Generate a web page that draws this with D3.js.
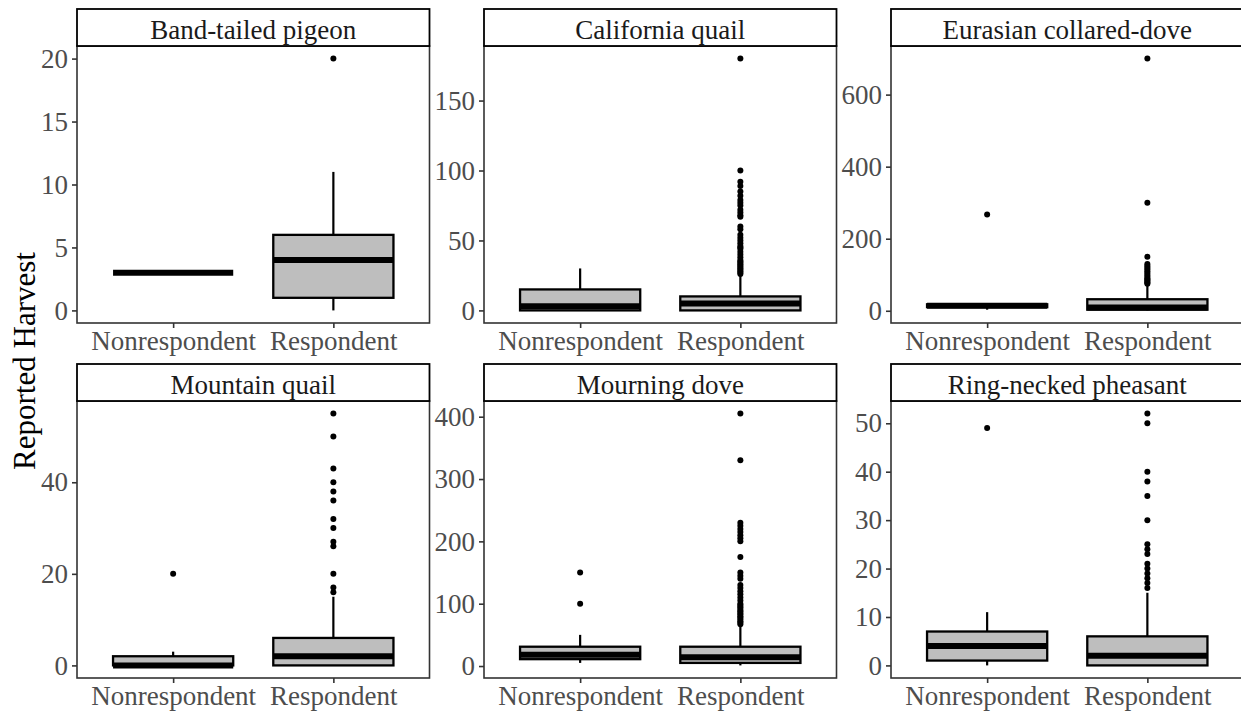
<!DOCTYPE html>
<html>
<head>
<meta charset="utf-8">
<script src="https://cdn.jsdelivr.net/npm/d3@7"></script>
<style>
  body { margin: 0; background: #fff; }
  svg { display: block; }
</style>
</head>
<body>
<svg id="chart" width="1241" height="713"></svg>
<script>
// ---------------- data ----------------
const species = ["Band-tailed pigeon", "California quail", "Eurasian collared-dove",
                 "Mountain quail", "Mourning dove", "Ring-necked pheasant"];
const groups = ["Nonrespondent", "Respondent"];

// per species: [Nonrespondent, Respondent]
const lowerWhisker = [[3, 0], [0, 0], [3, 1], [0, 0], [5, 1], [0, 0]];
const q1           = [[3, 1], [0, 0], [10, 3], [0, 0], [11, 5], [1, 0]];
const median       = [[3, 4], [3, 5], [14, 9], [0, 2], [18, 14], [4, 2]];
const q3           = [[3, 6], [15, 10], [18, 32], [2, 6], [31, 31], [7, 6]];
const upperWhisker = [[3, 11], [30, 25], [20, 70], [3, 15], [50, 65], [11, 15]];

const outliers = [
  [[], [20]],
  [[], [26, 27, 28, 29, 30, 31, 32, 33, 34, 35, 36, 38, 40, 42, 44, 45, 46, 48, 50, 52, 54,
        58, 60, 67, 68, 70, 72, 75, 77, 79, 82, 85, 89, 92, 100, 180]],
  [[267], [75, 78, 80, 84, 87, 90, 95, 100, 105, 110, 115, 120, 125, 130, 150, 300, 700]],
  [[20], [16, 17, 20, 26, 27, 30, 32, 36, 38, 40, 43, 50, 55]],
  [[100, 150], [67, 70, 72, 75, 78, 80, 83, 85, 88, 90, 93, 95, 98, 100, 105, 110, 115, 120,
                125, 130, 140, 145, 150, 175, 200, 205, 210, 215, 220, 225, 230, 330, 405]],
  [[49], [16, 17, 18, 19, 20, 21, 23, 24, 25, 30, 35, 38, 40, 50, 52]]
];

const yTicks = [
  [0, 5, 10, 15, 20],
  [0, 50, 100, 150],
  [0, 200, 400, 600],
  [0, 20, 40],
  [0, 100, 200, 300, 400],
  [0, 10, 20, 30, 40, 50]
];

const yTitle = "Reported Harvest";

// ---------------- layout ----------------
const colLeft = [77, 484, 891];
const panelW = 352.5;
const stripTop = [9, 364];
const stripH = 37;
const panelH = 277;
const font = "'Liberation Serif', 'Times New Roman', serif";

const svg = d3.select("#chart");
svg.append("rect").attr("width", 1241).attr("height", 713).attr("fill", "#fff");

species.forEach((name, i) => {
  const col = i % 3, row = Math.floor(i / 3);
  const x0 = colLeft[col];
  const sTop = stripTop[row];
  const pTop = sTop + stripH;
  const g = svg.append("g");

  // y domain from data with 5% expansion
  const all = [];
  groups.forEach((_, j) => {
    all.push(lowerWhisker[i][j], upperWhisker[i][j], q1[i][j], q3[i][j]);
    outliers[i][j].forEach(v => all.push(v));
  });
  const mn = d3.min(all), mx = d3.max(all);
  const pad = (mx - mn) * 0.05;
  const y = d3.scaleLinear().domain([mn - pad, mx + pad]).range([pTop + panelH, pTop]);
  const x = d3.scalePoint().domain(groups).range([x0, x0 + panelW]).padding(0.6);
  const boxW = x.step() * 0.75;

  g.append("rect").attr("x", x0).attr("y", pTop).attr("width", panelW).attr("height", panelH)
    .attr("fill", "#fff");

  groups.forEach((grp, j) => {
    const cx = x(grp);
    g.append("line").attr("x1", cx).attr("x2", cx)
      .attr("y1", y(q3[i][j])).attr("y2", y(upperWhisker[i][j]))
      .attr("stroke", "#000").attr("stroke-width", 2.2);
    g.append("line").attr("x1", cx).attr("x2", cx)
      .attr("y1", y(q1[i][j])).attr("y2", y(lowerWhisker[i][j]))
      .attr("stroke", "#000").attr("stroke-width", 2.2);
    g.append("rect").attr("x", cx - boxW / 2).attr("width", boxW)
      .attr("y", y(q3[i][j])).attr("height", Math.max(0, y(q1[i][j]) - y(q3[i][j])))
      .attr("fill", "#bebebe").attr("stroke", "#000").attr("stroke-width", 2.3);
    g.append("line").attr("x1", cx - boxW / 2).attr("x2", cx + boxW / 2)
      .attr("y1", y(median[i][j])).attr("y2", y(median[i][j]))
      .attr("stroke", "#000").attr("stroke-width", 6);
    g.selectAll(null).data(outliers[i][j]).enter().append("circle")
      .attr("cx", cx).attr("cy", d => y(d)).attr("r", 3).attr("fill", "#000");
  });

  g.append("rect").attr("x", x0).attr("y", pTop).attr("width", panelW).attr("height", panelH)
    .attr("fill", "none").attr("stroke", "#333").attr("stroke-width", 1.6);

  g.append("rect").attr("x", x0).attr("y", sTop).attr("width", panelW).attr("height", stripH)
    .attr("fill", "#fff").attr("stroke", "#000").attr("stroke-width", 1.8);
  g.append("text").attr("x", x0 + panelW / 2).attr("y", sTop + 29.5)
    .attr("text-anchor", "middle").attr("font-family", font).attr("font-size", 27)
    .attr("fill", "#1a1a1a").text(name);

  const ay = g.append("g").attr("transform", `translate(${x0},0)`)
    .call(d3.axisLeft(y).tickValues(yTicks[i]).tickSize(5).tickPadding(4).tickFormat(d3.format("d")));
  const ax = g.append("g").attr("transform", `translate(0,${pTop + panelH})`)
    .call(d3.axisBottom(x).tickSize(5).tickPadding(3));
  [ay, ax].forEach(a => {
    a.select(".domain").remove();
    a.selectAll(".tick line").attr("stroke", "#333").attr("stroke-width", 1.6);
    a.selectAll(".tick text").attr("font-family", font).attr("font-size", 27).attr("fill", "#4d4d4d");
  });
});

svg.append("text").attr("transform", "translate(35,361) rotate(-90)")
  .attr("text-anchor", "middle").attr("font-family", font).attr("font-size", 31)
  .attr("fill", "#000").text(yTitle);
</script>
</body>
</html>
